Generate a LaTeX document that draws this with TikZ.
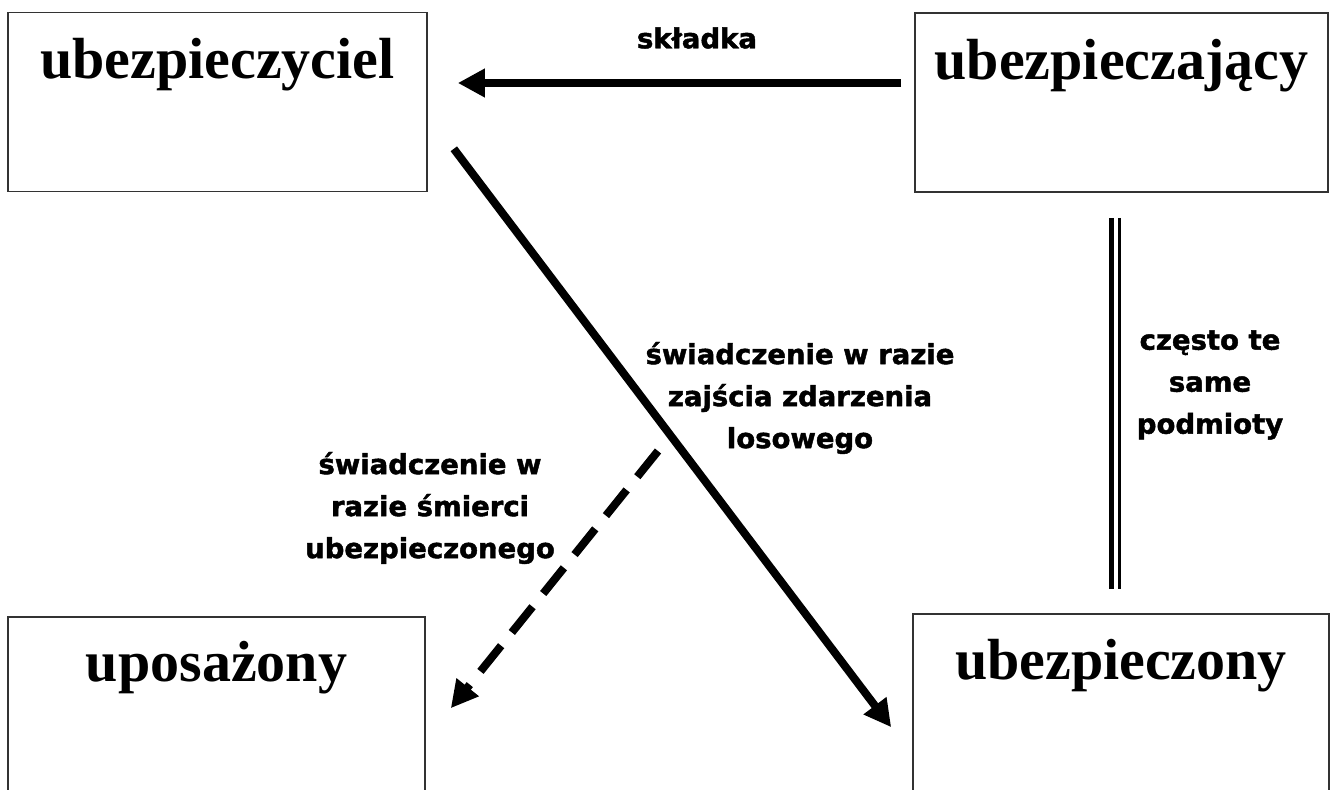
\documentclass[tikz,border=0pt]{standalone}
\usepackage{fontspec}
\setmainfont{Liberation Serif}
\newfontfamily\podpis{DejaVu Sans}[BoldFeatures={FakeBold=1.6}]
\usetikzlibrary{arrows.meta}

\begin{document}
\begin{tikzpicture}[x=1pt,y=-1pt,
  pole/.style={rectangle, draw=black!80, line width=1.6pt, minimum height=179pt, inner sep=0pt},
  tytul/.style={anchor=base, font=\fontsize{58}{60}\selectfont\bfseries},
  opis/.style={align=center, font=\podpis\bfseries\fontsize{27.5}{42}\selectfont},
  strzalka/.style={line width=8pt, -{Triangle[length=27pt,width=27pt]}}]
\useasboundingbox (0,0) rectangle (1334,790);
\clip (0,0) rectangle (1334,790);
%boxes
\node[pole, minimum width=419pt] (ubezpieczyciel) at (217.5,102) {};
\node[pole, minimum width=413pt] (ubezpieczajacy) at (1121.5,102.5) {};
\node[pole, minimum width=417pt, minimum height=210pt] (uposazony) at (216.5,722) {};
\node[pole, minimum width=416pt, minimum height=210pt] (ubezpieczony) at (1121,719) {};
\node[tytul] (t-ubezpieczyciel) at ([yshift=-67pt]ubezpieczyciel.north) {ubezpieczyciel};
\node[tytul] (t-ubezpieczajacy) at ([yshift=-67pt]ubezpieczajacy.north) {ubezpieczający};
\node[tytul] (t-uposazony) at ([yshift=-65pt]uposazony.north) {uposażony};
\node[tytul] (t-ubezpieczony) at ([yshift=-66pt]ubezpieczony.north) {ubezpieczony};
%arrows
\draw[strzalka] ([xshift=-13pt,yshift=19.5pt]ubezpieczajacy.west) -- ([xshift=30pt,yshift=19pt]ubezpieczyciel.east);
\draw[strzalka] ([xshift=26pt,yshift=43.5pt]ubezpieczyciel.south east) -- ([xshift=-21pt,yshift=-114pt]ubezpieczony.north west);
\coordinate (rozgalezienie) at (658,451);
\draw[strzalka, dash pattern=on 33pt off 17pt] (rozgalezienie) -- ([xshift=25pt,yshift=-92pt]uposazony.north east);
%double line
\draw[line width=5pt] ([xshift=-10.5pt,yshift=-25pt]ubezpieczajacy.south) -- ([xshift=-10pt,yshift=24pt]ubezpieczony.north);
\draw[line width=3pt] ([xshift=-2.5pt,yshift=-25pt]ubezpieczajacy.south) -- ([xshift=-2pt,yshift=24pt]ubezpieczony.north);
%labels
\node[opis] (skladka) at (697,38) {składka};
\node[opis] (losowe) at (800,398) {świadczenie w razie\\zajścia zdarzenia\\losowego};
\node[opis] (smierc) at (430,508) {świadczenie w\\razie śmierci\\ubezpieczonego};
\node[opis] (podmioty) at (1210,385) {często te\\same\\podmioty};
\end{tikzpicture}
\end{document}
